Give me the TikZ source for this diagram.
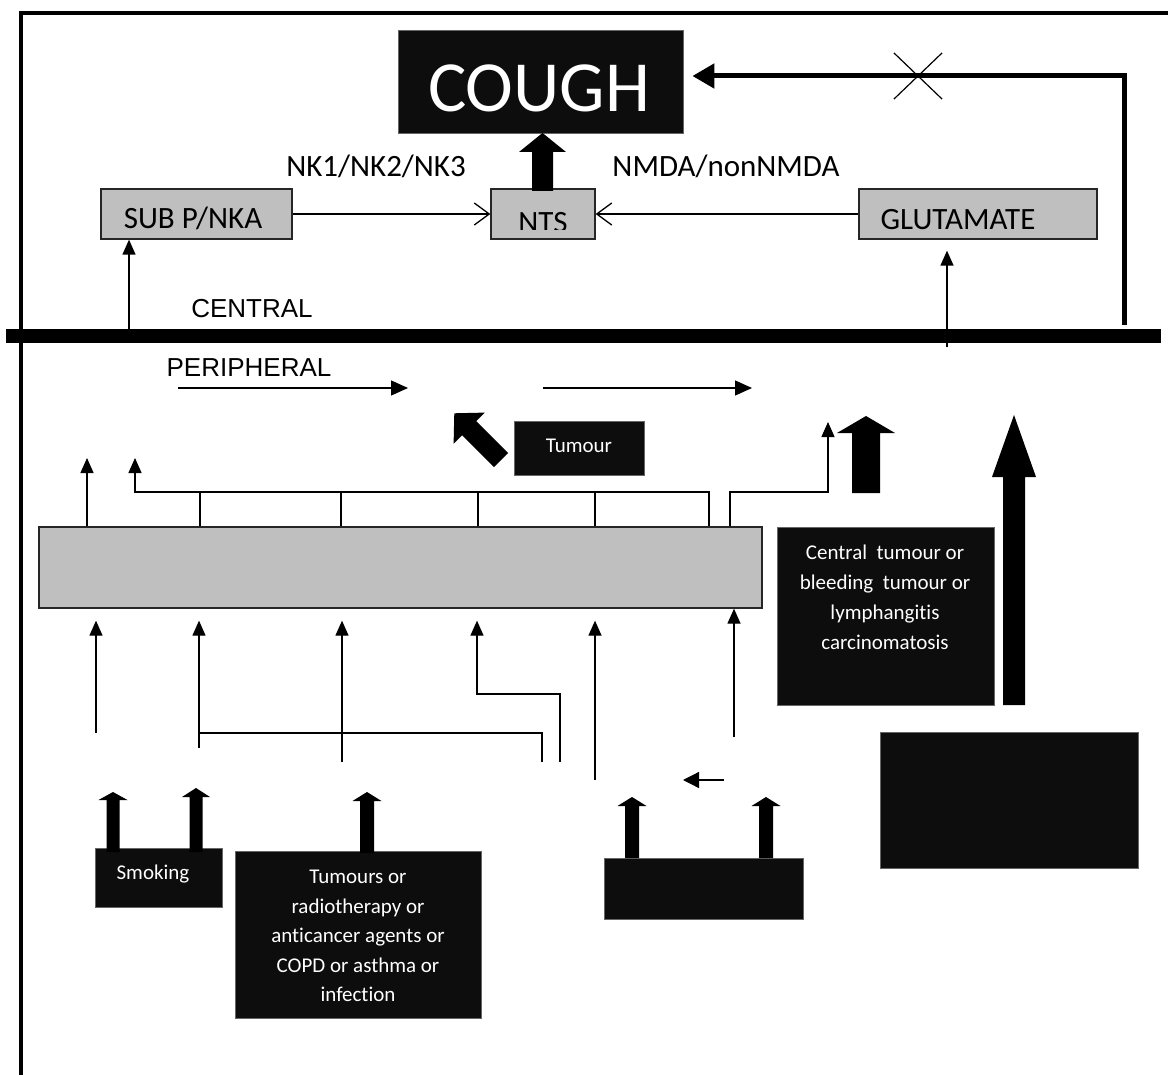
\documentclass[tikz,border=0pt]{standalone}
\usepackage{fontspec}
\setmainfont{Carlito}[Ligatures=NoCommon]
\newfontfamily\arialfont{Liberation Sans}
\usetikzlibrary{arrows.meta,shapes.misc}
\definecolor{gbox}{HTML}{BFBFBF}
\definecolor{bbox}{HTML}{0D0D0D}
% x, ybottom, ytip, shaft half width, head half width, head base y
\newcommand\blockarrow[6]{%
  \fill[black] ({#1-#4},#2) -- ({#1-#4},#6) -- ({#1-#5},#6) -- (#1,#3) -- ({#1+#5},#6) -- ({#1+#4},#6) -- ({#1+#4},#2) -- cycle;}
\begin{document}
\begin{tikzpicture}[x=1pt,y=-1pt,
  conn/.style={line width=1.3pt},
  tri/.style={-{Triangle[length=15pt,width=13pt]}},
  barb/.style={-{Straight Barb[length=15pt,width=22pt]}},
  graybox/.style={draw=black!85, fill=gbox, line width=1.3pt, inner sep=0pt},
  blkbox/.style={draw=black!60, fill=bbox, line width=0.8pt, inner sep=0pt},
  wtxt/.style={text=white, inner sep=0pt},
  btxt/.style={text=black, inner sep=0pt}]
\useasboundingbox (0,0) rectangle (1168,1075);
% frame
\draw[line width=4pt] (21,1075) -- (21,13) -- (1168,13);
% central / peripheral divider
\coordinate (clw) at (6,336); \coordinate (cle) at (1161,336);
\draw[line width=14pt] (clw) -- (cle);
\node[btxt, anchor=base, font=\arialfont\fontsize{26}{26}\selectfont] (central) at (252,318) {CENTRAL};
\node[btxt, anchor=base, font=\arialfont\fontsize{26}{26}\selectfont] (periph) at (249,377) {PERIPHERAL};

% COUGH
\node[blkbox, minimum width=285pt, minimum height=103pt] (cough) at (540.5,81.5) {};
\node[wtxt, anchor=base, font=\fontsize{72}{72}\selectfont] (coughtxt) at (539,112) {COUGH};

% central boxes
\node[graybox, minimum width=191pt, minimum height=50pt] (subp) at (196.5,214) {};
\node[btxt, anchor=base, font=\fontsize{31}{31}\selectfont] (subptxt) at (193,229) {SUB P/NKA};
\node[graybox, minimum width=104pt, minimum height=50pt] (nts) at (543,214) {};
\begin{scope}
  \clip (nts.north west) rectangle ([yshift=10pt]nts.south east);
  \node[btxt, anchor=base, font=\fontsize{31}{31}\selectfont] (ntstxt) at (543,233) {NTS};
\end{scope}
\node[graybox, minimum width=238pt, minimum height=50pt] (glu) at (978,214) {};
\node[btxt, anchor=base, font=\fontsize{31}{31}\selectfont] (glutxt) at (958,230) {GLUTAMATE};
\node[btxt, anchor=base, font=\fontsize{31}{31}\selectfont] (nk) at (376,177) {NK1/NK2/NK3};
\node[btxt, anchor=base, font=\fontsize{31}{31}\selectfont] (nmda) at (726,177) {NMDA/nonNMDA};

\draw[conn, barb] (subp.east) -- (nts.west);
\draw[conn, barb] (glu.west) -- (nts.east);
\coordinate (sa) at (129,330);
\draw[conn, tri] (sa) -- (sa |- subp.south);
\coordinate (ga) at (947,347);
\draw[conn, tri, shorten >=11pt] (ga) -- (ga |- glu.south);
% NTS -> COUGH
\blockarrow{542.5}{191}{133}{10.5}{23.5}{152}
% blocked return path
\coordinate (ret) at (1124,325); \coordinate (retc) at (1124,76);
\draw[line width=5pt, -{Triangle[length=22pt,width=24pt]}, shorten >=9pt] (ret) -- (retc) -- (retc -| cough.east);
\node[draw, cross out, line width=1.2pt, minimum width=47pt, minimum height=45pt, inner sep=0pt] (block) at (918,76) {};

% peripheral arrows
\coordinate (p1a) at (178,388); \coordinate (p1b) at (408,388);
\coordinate (p2a) at (543,388); \coordinate (p2b) at (752,388);
\draw[conn, -{Triangle[length=17pt,width=15pt]}] (p1a) -- (p1b);
\draw[conn, -{Triangle[length=17pt,width=15pt]}] (p2a) -- (p2b);

% Tumour
\node[blkbox, minimum width=130pt, minimum height=54pt] (tbox) at (579,448) {};
\node[wtxt, anchor=base, font=\fontsize{21}{21}\selectfont] (ttxt) at (579,453) {Tumour};
\fill (508.1,452.9) -- (476.3,421.1) -- (484.8,412.6) -- (454.3,413.3) -- (453.6,443.8) -- (462.1,435.3) -- (493.9,467.1) -- cycle;

% big grey box
\node[graybox, minimum width=723pt, minimum height=81pt] (big) at (400.5,567.5) {};
% arrows above big box
\coordinate (lf) at (87,458);
\draw[conn, tri] (lf |- big.north) -- (lf);
\coordinate (tr0) at (135,492); \coordinate (tr1) at (200,492); \coordinate (tr2) at (341,492);
\coordinate (tr3) at (478,492); \coordinate (tr4) at (595,492); \coordinate (tr5) at (709,492);
\draw[conn, tri] (tr5 |- big.north) -- (tr5) -- (tr0) -- ++(0,-34);
\foreach \t in {tr1,tr2,tr3,tr4} \draw[conn] (\t) -- (\t |- big.north);
\coordinate (rp0) at (730,492); \coordinate (rp1) at (828,492); \coordinate (rp2) at (828,422);
\draw[conn, tri] (rp0 |- big.north) -- (rp0) -- (rp1) -- (rp2);
\blockarrow{866}{493}{416}{14}{29}{433}

% central tumour box
\node[blkbox, minimum width=217pt, minimum height=178pt] (ctb) at (885.5,616) {};
\node[wtxt, align=center, font=\fontsize{21}{30}\selectfont] (ctxt) at (885,597) {Central~ tumour or\\bleeding~ tumour or\\lymphangitis\\carcinomatosis};
\blockarrow{1014}{705}{415}{11}{22}{477}
\node[blkbox, minimum width=258pt, minimum height=136pt] (brb) at (1009,800) {};

% arrows below big box
\coordinate (b1) at (96,733); \coordinate (b2) at (199,748); \coordinate (b3) at (342,762);
\coordinate (b4) at (560,762); \coordinate (b4c) at (560,694); \coordinate (b4d) at (477,694);
\coordinate (b5) at (595,780); \coordinate (b6) at (734,737);
\draw[conn, tri, shorten >=12pt] (b1) -- (b1 |- big.south);
\draw[conn, tri, shorten >=12pt] (b2) -- (b2 |- big.south);
\draw[conn, tri, shorten >=12pt] (b3) -- (b3 |- big.south);
\draw[conn, tri, shorten >=12pt] (b4) -- (b4c) -- (b4d) -- (b4d |- big.south);
\draw[conn, tri, shorten >=12pt] (b5) -- (b5 |- big.south);
\draw[conn, tri] (b6) -- (b6 |- big.south);
\coordinate (h1) at (199,733); \coordinate (h2) at (542,733); \coordinate (h3) at (542,762);
\draw[conn] (h1) -- (h2) -- (h3);
\coordinate (sl1) at (724,780); \coordinate (sl2) at (683,780);
\draw[conn, -{Triangle[length=16pt,width=16pt]}] (sl1) -- (sl2);

% bottom boxes
\node[blkbox, minimum width=127pt, minimum height=59pt] (smk) at (158.5,877.5) {};
\node[wtxt, anchor=base, font=\fontsize{21}{21}\selectfont] (smktxt) at (153,879) {Smoking};
\blockarrow{113}{852}{792}{6.5}{14.5}{800}
\blockarrow{196}{852}{788}{6.5}{14}{797}
\node[blkbox, minimum width=246pt, minimum height=167pt] (tms) at (358,934.5) {};
\node[wtxt, align=center, font=\fontsize{21}{29.5}\selectfont] (tmstxt) at (358,936) {Tumours or\\radiotherapy or\\anticancer agents or\\COPD or asthma or\\infection};
\blockarrow{367}{853}{792}{7}{14.5}{801}
\node[blkbox, minimum width=199pt, minimum height=61pt] (bx3) at (703.5,888.5) {};
\blockarrow{632}{858}{797}{7}{14.5}{806}
\blockarrow{766}{858}{797}{7}{14.5}{806}
\end{tikzpicture}
\end{document}
